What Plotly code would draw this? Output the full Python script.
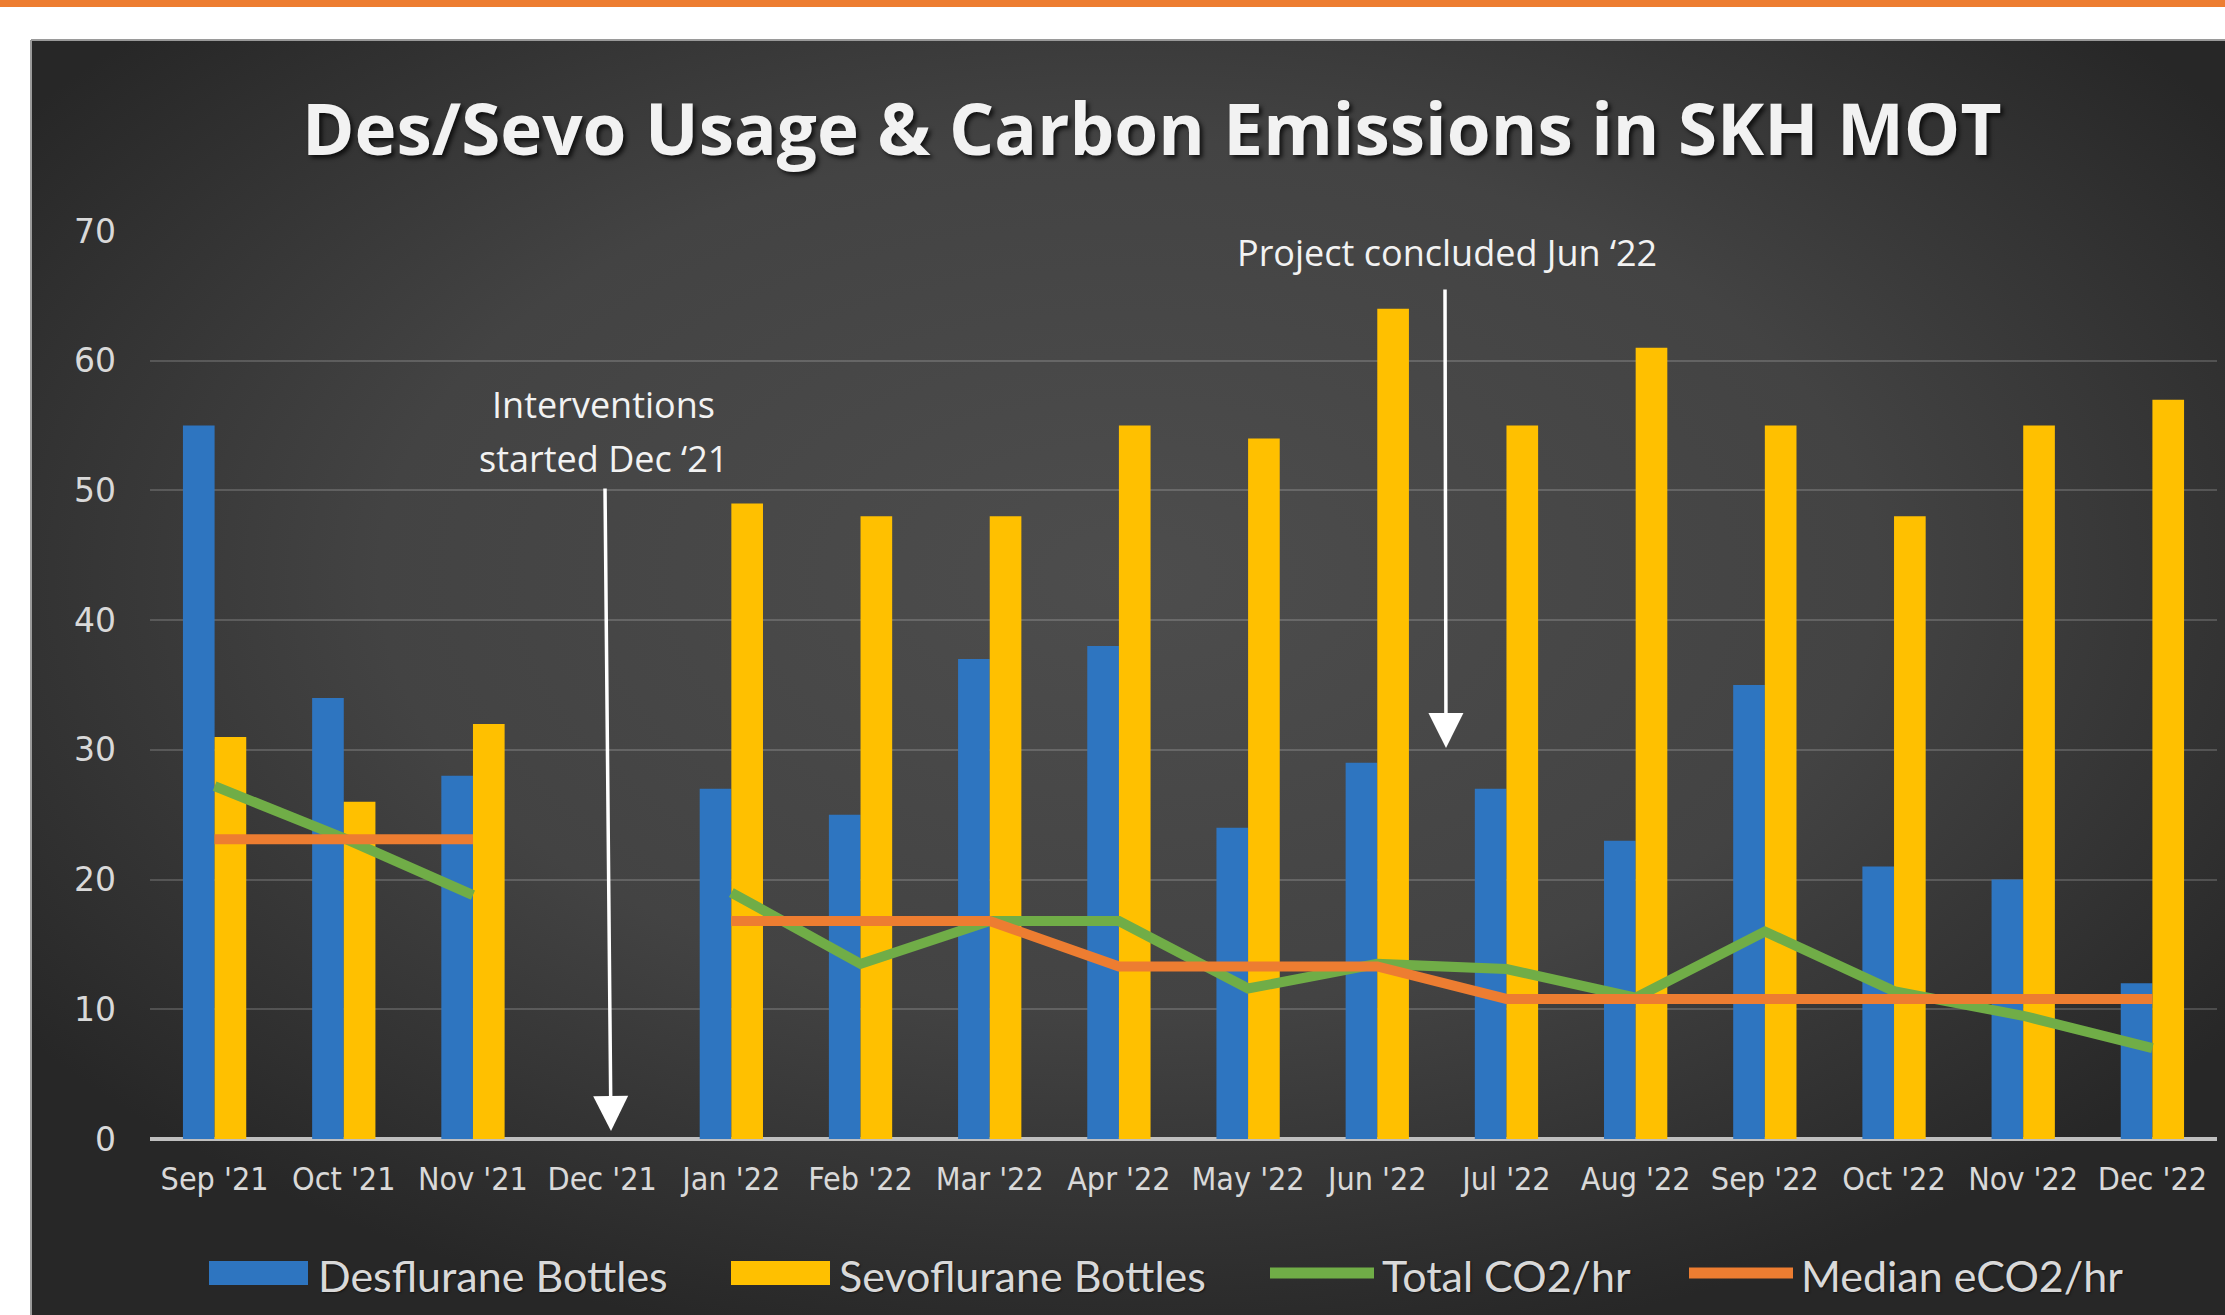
import base64
import plotly.graph_objects as go

W, H = 2225, 1315
# plot area in pixels
PL, PR, PT, PB = 150, 2217, 231, 1139

months = ["Sep '21", "Oct '21", "Nov '21", "Dec '21", "Jan '22", "Feb '22", "Mar '22", "Apr '22",
          "May '22", "Jun '22", "Jul '22", "Aug '22", "Sep '22", "Oct '22", "Nov '22", "Dec '22"]
desflurane = [55, 34, 28, None, 27, 25, 37, 38, 24, 29, 27, 23, 35, 21, 20, 12]
sevoflurane = [31, 26, 32, None, 49, 48, 48, 55, 54, 64, 55, 61, 55, 48, 55, 57]
total_co2 = [27.2, 23.2, 18.8, None, 19.0, 13.5, 16.8, 16.8, 11.6, 13.5, 13.1, 10.9, 16.0, 11.4, 9.5, 7.0]
median_eco2 = [23.1, 23.1, 23.1, None, 16.8, 16.8, 16.8, 13.3, 13.3, 13.3, 10.8, 10.8, 10.8, 10.8, 10.8, 10.8]
y_ticks = [0, 10, 20, 30, 40, 50, 60, 70]

BLUE = "#2E75C0"
YELLOW = "#FFC000"
GREEN = "#70AD47"
ORANGE = "#ED7D31"
TXT = "#D9D9D9"


def px(x):
    return (x - PL) / (PR - PL)


def py(y):
    return (PB - y) / (PB - PT)


fig = go.Figure()
fig.add_trace(go.Bar(x=months, y=desflurane, name="Desflurane Bottles", marker=dict(color=BLUE, line=dict(width=0))))
fig.add_trace(go.Bar(x=months, y=sevoflurane, name="Sevoflurane Bottles", marker=dict(color=YELLOW, line=dict(width=0))))
fig.add_trace(go.Scatter(x=months, y=total_co2, name="Total CO2/hr", mode="lines",
                         line=dict(color=GREEN, width=10), connectgaps=False))
fig.add_trace(go.Scatter(x=months, y=median_eco2, name="Median eCO2/hr", mode="lines",
                         line=dict(color=ORANGE, width=10), connectgaps=False))

# background gradient as svg image
svg = ('<svg xmlns="http://www.w3.org/2000/svg" width="200" height="120" viewBox="0 0 200 120" '
       'preserveAspectRatio="none"><defs><radialGradient id="g" cx="50%" cy="42%" r="62%">'
       '<stop offset="0%" stop-color="#4d4d4d"/><stop offset="55%" stop-color="#434343"/>'
       '<stop offset="100%" stop-color="#272727"/></radialGradient></defs>'
       '<rect x="0" y="0" width="200" height="120" fill="url(#g)"/></svg>')
src = "data:image/svg+xml;base64," + base64.b64encode(svg.encode()).decode()
bx0, by0 = 31, 40
fig.add_layout_image(dict(source=src, xref="paper", yref="paper", x=px(bx0), y=py(by0),
                          sizex=px(W) - px(bx0), sizey=py(by0) - py(H), sizing="stretch",
                          xanchor="left", yanchor="top", layer="below"))

shapes = [
    dict(type="rect", xref="paper", yref="paper", x0=px(0), x1=px(W), y0=py(0), y1=py(7),
         fillcolor="#ED7D31", line=dict(width=0), layer="above"),
    dict(type="line", xref="paper", yref="paper", x0=px(bx0), x1=px(W), y0=py(by0), y1=py(by0),
         line=dict(color="#9a9a9a", width=2)),
    dict(type="line", xref="paper", yref="paper", x0=px(bx0), x1=px(bx0), y0=py(by0), y1=py(H),
         line=dict(color="#9a9a9a", width=2)),
]

# manual legend
leg_y = 1273
legend_items = [
    ("rect", BLUE, 209, 308, "Desflurane Bottles", 316),
    ("rect", YELLOW, 731, 830, "Sevoflurane Bottles", 837),
    ("line", GREEN, 1270, 1374, "Total CO2/hr", 1380),
    ("line", ORANGE, 1689, 1793, "Median eCO2/hr", 1799),
]
annotations = []
for kind, col, x0, x1, label, tx in legend_items:
    if kind == "rect":
        shapes.append(dict(type="rect", xref="paper", yref="paper", x0=px(x0), x1=px(x1),
                           y0=py(leg_y - 12), y1=py(leg_y + 12), fillcolor=col, line=dict(width=0)))
    else:
        shapes.append(dict(type="line", xref="paper", yref="paper", x0=px(x0), x1=px(x1),
                           y0=py(leg_y), y1=py(leg_y), line=dict(color=col, width=11)))
    annotations.append(dict(text=label, xref="paper", yref="paper", x=px(tx), y=py(leg_y + 2),
                            xanchor="left", yanchor="middle", showarrow=False,
                            font=dict(family="Lato, Open Sans, sans-serif", size=43, color=TXT,
                                      shadow="1px 1px 2px rgba(0,0,0,0.5)")))

# title
annotations.append(dict(text="<b>Des/Sevo Usage &amp; Carbon Emissions in SKH MOT</b>", xref="paper", yref="paper",
                        x=px(1152), y=py(128), xanchor="center", yanchor="middle", showarrow=False,
                        font=dict(family="Open Sans, sans-serif", size=71, color="#F2F2F2",
                                  shadow="3px 3px 4px rgba(0,0,0,0.7)")))

# callouts
CALL_FONT = dict(family="Open Sans, sans-serif", size=36, color="#F2F2F2")
annotations.append(dict(text="Interventions", xref="paper", yref="paper",
                        x=px(603), y=py(404), xanchor="center", yanchor="middle", showarrow=False,
                        font=CALL_FONT))
annotations.append(dict(text="started Dec \u201821", xref="paper", yref="paper",
                        x=px(603), y=py(458), xanchor="center", yanchor="middle", showarrow=False,
                        font=CALL_FONT))
annotations.append(dict(text="Project concluded Jun \u201822", xref="paper", yref="paper",
                        x=px(1447), y=py(253), xanchor="center", yanchor="middle", showarrow=False,
                        font=CALL_FONT))
annotations.append(dict(text="", xref="paper", yref="paper", x=px(611), y=py(1131),
                        ax=-6, ay=487 - 1131, showarrow=True, arrowhead=2, arrowsize=2,
                        arrowwidth=3.5, arrowcolor="#FFFFFF"))
annotations.append(dict(text="", xref="paper", yref="paper", x=px(1446), y=py(748),
                        ax=-1, ay=288 - 748, showarrow=True, arrowhead=2, arrowsize=2,
                        arrowwidth=3.5, arrowcolor="#FFFFFF"))

fig.update_layout(
    width=W, height=H,
    margin=dict(l=PL, r=W - PR, t=PT, b=H - PB, pad=0),
    paper_bgcolor="#FFFFFF",
    plot_bgcolor="rgba(0,0,0,0)",
    showlegend=False,
    barmode="group",
    bargap=0.51,
    bargroupgap=0,
    shapes=shapes,
    annotations=annotations,
)
fig.update_xaxes(
    type="category", categoryorder="array", categoryarray=months,
    showgrid=False, zeroline=False, showline=False, ticks="",
    tickfont=dict(family="Liberation Sans Narrow, DejaVu Sans Condensed, Lato, sans-serif", size=32, color=TXT),
    ticklabelstandoff=18,
)
fig.update_yaxes(
    range=[0, 70], tickvals=y_ticks, showgrid=True, gridcolor="rgba(255,255,255,0.17)", gridwidth=2,
    zeroline=True, zerolinecolor="#BFBFBF", zerolinewidth=4, showline=False, ticks="",
    tickfont=dict(family="DejaVu Sans, sans-serif", size=33, color=TXT),
    ticklabelstandoff=33,
)

fig.write_html("out.html", config={"displayModeBar": False},
               post_script="document.body.style.margin='0';document.body.style.overflow='hidden';")
